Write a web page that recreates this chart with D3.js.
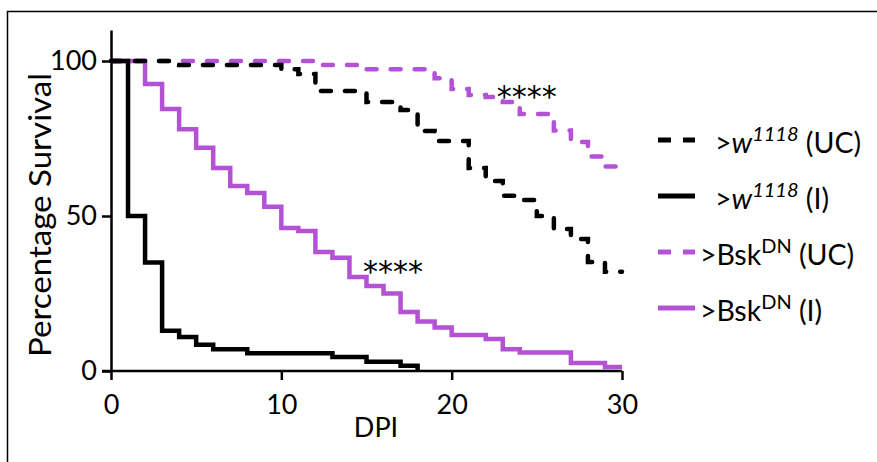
<!DOCTYPE html>
<html>
<head>
<meta charset="utf-8">
<script src="https://cdn.jsdelivr.net/npm/d3@7"></script>
<style>
  body { margin: 0; background: #fff; }
  svg { display: block; }
  text { font-family: Lato, "Open Sans", sans-serif; fill: #000; }
</style>
</head>
<body>
<div id="chart"></div>
<script>
// survival data (day, percent), step after
const days_w_uc = [0, 4, 10, 11, 12, 15, 17, 18, 19, 21, 22, 23, 24, 25, 26, 27, 28, 29, 30]
const surv_w_uc = [100, 98.7, 97.3, 95.8, 90.3, 86.8, 84.2, 77.4, 74.2, 65.5, 61.3, 56.5, 55.2, 50, 45.8, 42.6, 35.2, 32, 32]

const days_w_i = [0, 1, 2, 3, 4, 5, 6, 8, 13, 15, 17, 18]
const surv_w_i = [100, 50, 35, 13, 11, 8.5, 7, 5.7, 4.5, 3, 1.7, 0]

const days_b_uc = [0, 12, 15, 19, 20, 21, 22, 23, 24, 26, 27, 28, 29, 30]
const surv_b_uc = [100, 98.7, 97.3, 94.4, 91, 89, 88.4, 86.8, 82.9, 77.6, 73.9, 69.2, 66, 66]

const days_b_i = [0, 2, 3, 4, 5, 6, 7, 8, 9, 10, 11, 12, 13, 14, 15, 16, 17, 18, 19, 20, 22, 23, 24, 27, 29, 30]
const surv_b_i = [100, 92.6, 84.5, 78, 72, 65.5, 59.7, 57.4, 53, 46.1, 45.2, 38.4, 36.5, 30.3, 27.4, 25, 19, 16, 14, 11.6, 10.3, 7, 6, 2.6, 1.3, 1.3]

const xTicks = [0, 10, 20, 30]
const yTicks = [0, 50, 100]

// legend labels: prefix, italic part, superscript, tail
const legendLabels = [
  {pre: ">", it: "w", sup: "1118", tail: " (UC)"},
  {pre: ">", it: "w", sup: "1118", tail: " (I)"},
  {pre: ">Bsk", it: "", sup: "DN", tail: " (UC)"},
  {pre: ">Bsk", it: "", sup: "DN", tail: " (I)"}
]

// significance marks: [day at left edge, percent at middle]
const starPos = [[22.65, 90.6], [14.8, 33.9]]

const W = 877, H = 462
const purple = "#b452d6"

const svg = d3.select("#chart").append("svg")
  .attr("width", W).attr("height", H)

// outer frame (cut at right / bottom like the original)
svg.append("rect")
  .attr("x", 7.5).attr("y", 11.5)
  .attr("width", 1000).attr("height", 1000)
  .attr("fill", "none").attr("stroke", "#000").attr("stroke-width", 1.5)

const x = d3.scaleLinear().domain([0, 30]).range([111, 622])
const y = d3.scaleLinear().domain([0, 110]).range([371, 30])

const series = [
  {days: days_b_i, surv: surv_b_i, color: purple, dash: null},
  {days: days_b_uc, surv: surv_b_uc, color: purple, dash: "10,14"},
  {days: days_w_i, surv: surv_w_i, color: "#000", dash: null},
  {days: days_w_uc, surv: surv_w_uc, color: "#000", dash: "10,14"}
]

const line = d3.line()
  .x(d => x(d[0]))
  .y(d => y(d[1]))
  .curve(d3.curveStepAfter)

series.forEach(s => {
  const pts = s.days.map((d, i) => [d, s.surv[i]])
  svg.append("path")
    .attr("d", line(pts))
    .attr("fill", "none")
    .attr("stroke", s.color)
    .attr("stroke-width", 4.5)
    .attr("stroke-dasharray", s.dash)
    .attr("stroke-linecap", s.dash ? "round" : "butt")
})

// axes
const xAxis = svg.append("g")
  .attr("transform", "translate(0,371)")
  .call(d3.axisBottom(x).tickValues(xTicks).tickSize(9).tickSizeOuter(0).tickPadding(15))
const yAxis = svg.append("g")
  .attr("transform", "translate(111,0)")
  .call(d3.axisLeft(y).tickValues(yTicks).tickSize(9).tickSizeOuter(0).tickPadding(5))

;[xAxis, yAxis].forEach(a => {
  a.select(".domain").attr("stroke", "#000").attr("stroke-width", 2.5)
  a.selectAll(".tick line").attr("stroke", "#000").attr("stroke-width", 2.5)
  a.selectAll(".tick text").style("font-family", "Lato").style("font-size", "27px").attr("fill", "#000")
})
// x axis starts at the left end of the y tick
xAxis.select(".domain").attr("d", "M" + (111 - 9) + ",0H622")

svg.append("text")
  .attr("x", 376).attr("y", 437)
  .attr("text-anchor", "middle")
  .style("font-size", "27px")
  .text("DPI")

svg.append("text")
  .attr("transform", "translate(51,215) rotate(-90)")
  .attr("text-anchor", "middle")
  .attr("textLength", 284)
  .attr("lengthAdjust", "spacingAndGlyphs")
  .style("font-size", "30px")
  .text("Percentage Survival")

// asterisks
starPos.forEach(p => {
  svg.append("text")
    .attr("x", x(p[0])).attr("y", y(p[1]) + 16.5)
    .style("font-family", "DejaVu Sans")
    .style("font-size", "30px")
    .text("****")
})

// legend
const legendSeries = [series[3], series[2], series[1], series[0]]
legendLabels.forEach((lab, i) => {
  const base = 153 + i * 56
  const s = legendSeries[i]
  svg.append("line")
    .attr("x1", 658).attr("x2", 695)
    .attr("y1", base - 13).attr("y2", base - 13)
    .attr("stroke", s.color).attr("stroke-width", 5)
    .attr("stroke-dasharray", s.dash ? "13,12" : null)
  const t = svg.append("text")
    .attr("x", lab.it ? 715 : 700).attr("y", base)
    .style("font-size", "28.5px")
  t.append("tspan").text(lab.pre)
  if (lab.it) t.append("tspan").style("font-style", "italic").text(lab.it)
  t.append("tspan").attr("dy", -12).style("font-size", "20px")
    .style("font-style", lab.it ? "italic" : "normal").text(lab.sup)
  t.append("tspan").attr("dy", 12).text(lab.tail)
})
</script>
</body>
</html>
